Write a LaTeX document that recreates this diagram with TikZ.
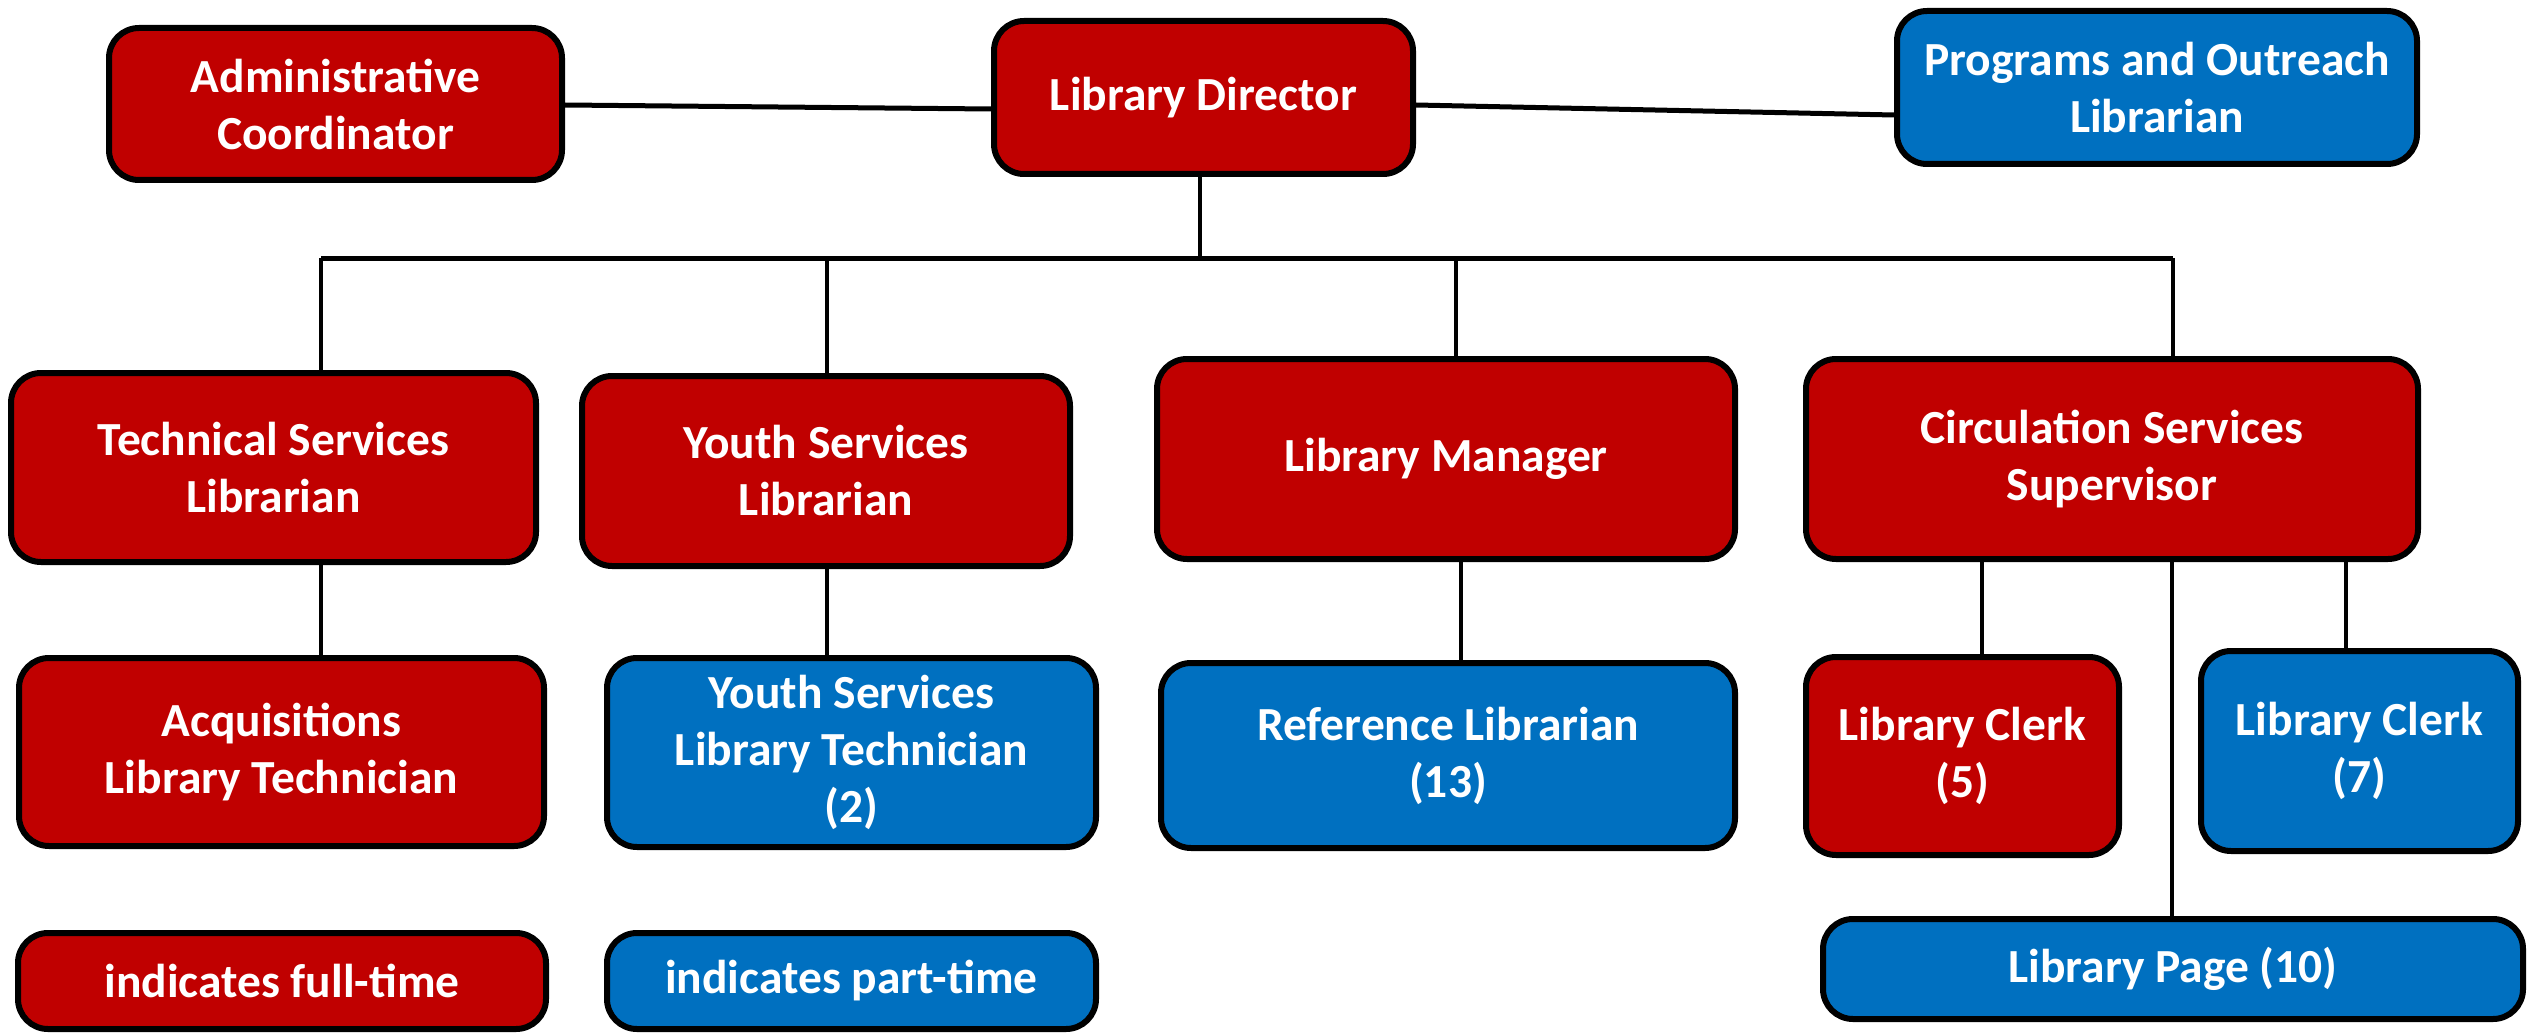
\documentclass[tikz,border=0pt]{standalone}
\usepackage{fontspec}
\setmainfont{Carlito}
\definecolor{ftred}{HTML}{C00000}
\definecolor{ptblue}{HTML}{0070C0}
\tikzset{
  box/.style={draw=black, line width=6pt, rounded corners=30pt, text=white,
    font=\fontsize{47.5}{57}\selectfont\bfseries, align=center, inner sep=0pt},
  fulltime/.style={box, fill=ftred},
  parttime/.style={box, fill=ptblue},
  hline/.style={line width=5pt},
  vline/.style={line width=4.5pt}
}
\begin{document}
\begin{tikzpicture}[x=1pt,y=-1pt]
\useasboundingbox (0,0) rectangle (2529,1035);
% top row
\node[fulltime, minimum width=453pt, minimum height=152pt] (admin) at (335.5,104) {Administrative\\Coordinator};
\node[fulltime, minimum width=419pt, minimum height=153pt] (director) at (1203.5,97.5) {Library Director};
\node[parttime, minimum width=520pt, minimum height=153pt] (programs) at (2157,87.5) {Programs and Outreach\\Librarian};
% second row
\node[fulltime, minimum width=525pt, minimum height=189pt] (tech) at (273.5,467.5) {Technical Services\\Librarian};
\node[fulltime, minimum width=488pt, minimum height=190pt] (youth) at (826,471) {Youth Services\\Librarian};
\node[fulltime, minimum width=578pt, minimum height=200pt] (manager) at (1446,459) {Library Manager};
\node[fulltime, minimum width=612pt, minimum height=200pt] (circ) at (2112,459) {Circulation Services\\Supervisor};
% third row
\node[fulltime, minimum width=525pt, minimum height=188pt] (acq) at (281.5,752) {Acquisitions\\Library Technician};
\node[parttime, minimum width=489pt, minimum height=189pt] (ytech) at (851.5,752.5) {Youth Services\\Library Technician\\(2)};
\node[parttime, minimum width=574pt, minimum height=185pt] (ref) at (1448,755.5) {Reference Librarian\\(13)};
\node[fulltime, minimum width=313pt, minimum height=198pt] (clerkA) at (1962.5,756) {Library Clerk\\(5)};
\node[parttime, minimum width=317pt, minimum height=200pt] (clerkB) at (2359.5,751) {Library Clerk\\(7)};
\node[parttime, minimum width=700pt, minimum height=100pt] (page) at (2173,969) {Library Page (10)};
% legend
\node[fulltime, minimum width=528pt, minimum height=96pt] (full) at (282,981) {indicates full-time};
\node[parttime, minimum width=489pt, minimum height=96pt] (part) at (851.5,981) {indicates part-time};
% connectors
\draw[hline] (admin.east |- 0,105) -- (director.west |- 0,109);
\draw[hline] (director.east |- 0,105) -- (programs.west |- 0,115);
\coordinate (busL) at (321,258);
\coordinate (busD) at (1200,258);
\coordinate (busY) at (827,258);
\coordinate (busM) at (1456,258);
\coordinate (busR) at (2173,258);
\draw[vline] (busD |- director.south) -- (busD);
\draw[hline] (busL) -- (busR);
\draw[vline] (busL) -- (busL |- tech.north);
\draw[vline] (busY) -- (busY |- youth.north);
\draw[vline] (busM) -- (busM |- manager.north);
\draw[vline] (busR) -- (busR |- circ.north);
\draw[vline] (tech.south -| busL) -- (acq.north -| busL);
\draw[vline] (youth.south -| busY) -- (ytech.north -| busY);
\coordinate (mref) at (1461,0);
\draw[vline] (manager.south -| mref) -- (ref.north -| mref);
\coordinate (cA) at (1982,0);
\coordinate (cB) at (2346,0);
\coordinate (cP) at (2172,0);
\draw[vline] (circ.south -| cA) -- (clerkA.north -| cA);
\draw[vline] (circ.south -| cB) -- (clerkB.north -| cB);
\draw[vline] (circ.south -| cP) -- (page.north -| cP);
\end{tikzpicture}
\end{document}
